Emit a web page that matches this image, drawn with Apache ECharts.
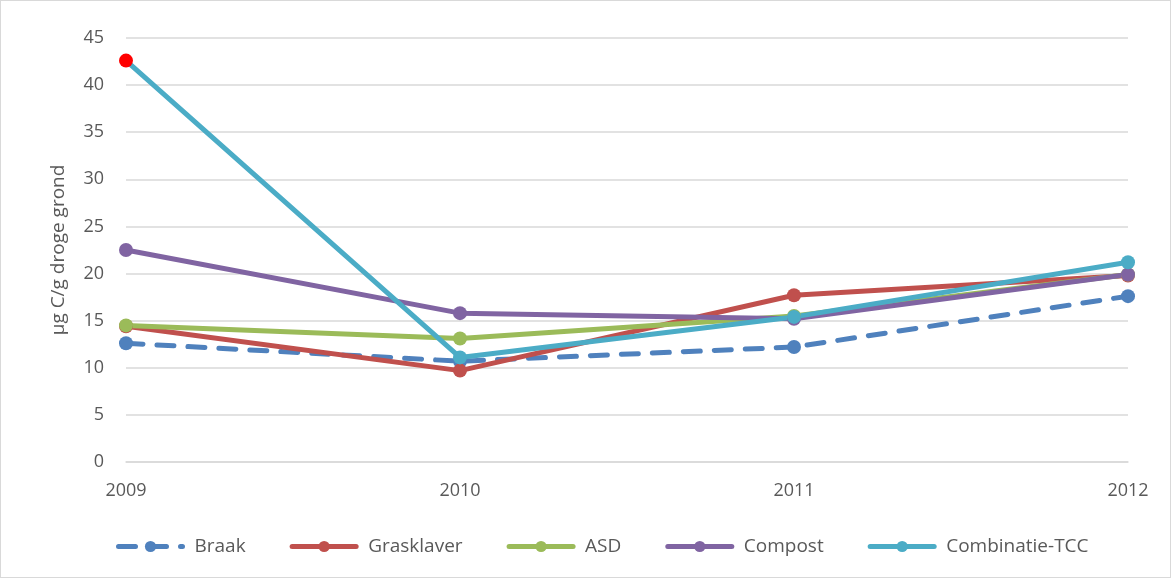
<!DOCTYPE html>
<html>
<head>
<meta charset="utf-8">
<script src="https://cdn.jsdelivr.net/npm/echarts@6/dist/echarts.min.js"></script>
<style>
  html, body { margin: 0; padding: 0; background: #fff; }
  #chart { width: 1169px; height: 576px; border: 1px solid #d9d9d9; }
</style>
</head>
<body>
<div id="chart"></div>
<script>
var years = ['2009', '2010', '2011', '2012'];
var braak = [12.6, 10.7, 12.2, 17.6];
var grasklaver = [14.4, 9.7, 17.7, 19.8];
var asd = [14.5, 13.1, 15.5, 19.9];
var compost = [22.5, 15.8, 15.2, 19.9];
var combinatie = [42.6, 11.1, 15.4, 21.2];

var txt = '#595959';
var font = '"Open Sans", "Liberation Sans", sans-serif';

function line(name, data, color, dashed) {
	return {
		name: name,
		type: 'line',
		data: data,
		symbol: 'circle',
		symbolSize: 14,
		lineStyle: { width: 5, color: color, type: dashed ? [17, 14] : 'solid', cap: 'round' },
		itemStyle: { color: color },
		emphasis: { disabled: true }
	};
}

var myChart = echarts.init(document.getElementById('chart'));
var tcc = line('Combinatie-TCC', combinatie, '#4BACC6');
tcc.data = combinatie.map(function (v, i) {
	return i === 0 ? { value: v, itemStyle: { color: '#FF0000' } } : v;
});

var option = {
	animation: false,
	textStyle: { fontFamily: font, color: txt },
	grid: { left: 125, right: 42, top: 37, bottom: 115 },
	xAxis: {
		type: 'category',
		boundaryGap: false,
		data: years,
		axisLine: { lineStyle: { color: '#d9d9d9', width: 1.5 } },
		axisTick: { show: false },
		axisLabel: { color: txt, fontSize: 18, margin: 20, fontFamily: font }
	},
	yAxis: {
		type: 'value',
		min: 0,
		max: 45,
		interval: 5,
		name: 'µg C/g droge grond',
		nameLocation: 'middle',
		nameGap: 58,
		nameTextStyle: { color: txt, fontSize: 19, fontFamily: font },
		axisLine: { show: false },
		axisTick: { show: false },
		axisLabel: { color: txt, fontSize: 18, margin: 22, fontFamily: font },
		splitLine: { lineStyle: { color: '#d9d9d9', width: 1.5 } }
	},
	legend: {
		bottom: 16,
		left: 110,
		itemWidth: 64,
		itemHeight: 14,
		itemGap: 44,
		lineStyle: { width: 5 },
		textStyle: { color: txt, fontSize: 19, fontFamily: font, padding: [0, 0, 0, 7] },
		data: ['Braak', 'Grasklaver', 'ASD', 'Compost', 'Combinatie-TCC']
	},
	series: [
		line('Braak', braak, '#4F81BD', true),
		line('Grasklaver', grasklaver, '#C0504D'),
		line('ASD', asd, '#9BBB59'),
		line('Compost', compost, '#8064A2'),
		tcc
	]
};
myChart.setOption(option);
</script>
</body>
</html>
